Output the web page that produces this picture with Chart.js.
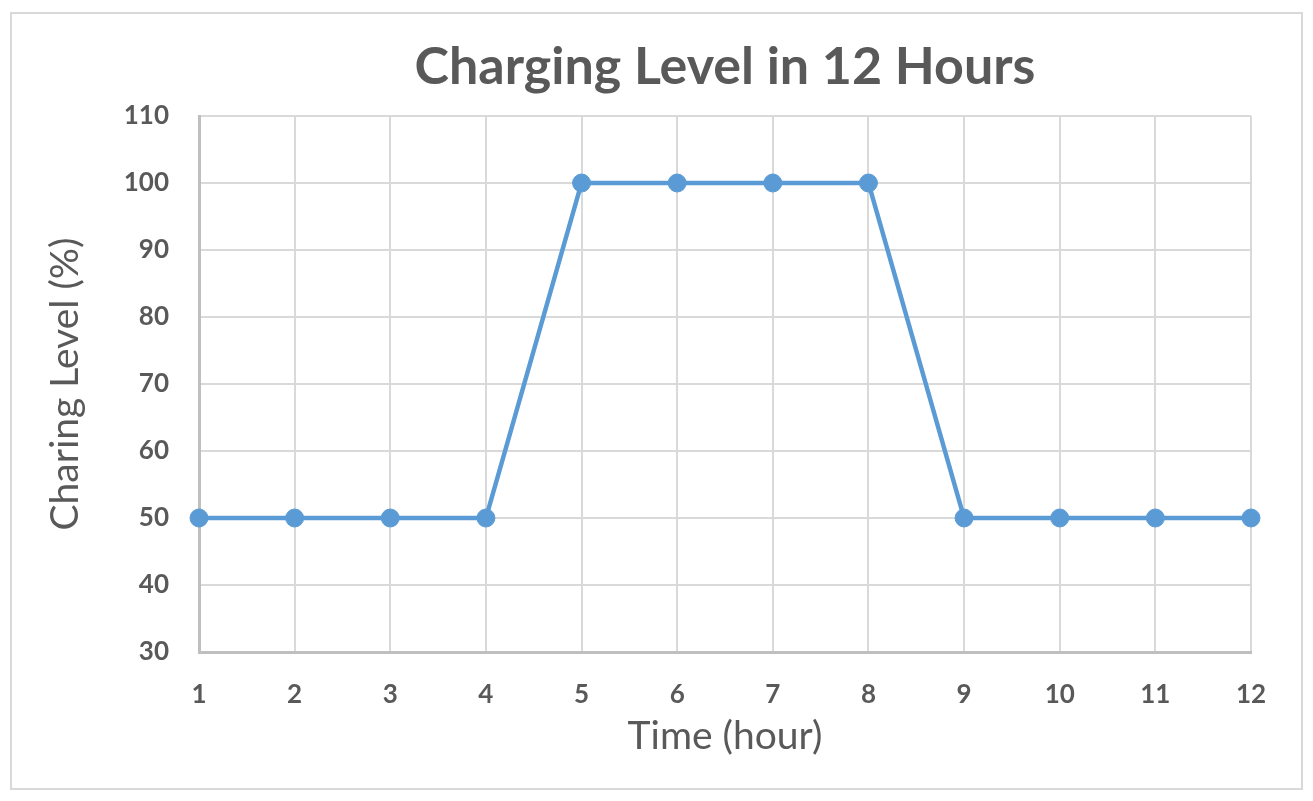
<!DOCTYPE html>
<html>
<head>
<meta charset="utf-8">
<script src="https://cdn.jsdelivr.net/npm/chart.js@4"></script>
<style>
  body { margin: 0; background: #fff; }
  #wrap { position: relative; width: 1313px; height: 801px; }
  #frame { position: absolute; left: 10px; top: 12px; width: 1293px; height: 778px;
           box-sizing: border-box; border: 2px solid #d9d9d9; pointer-events: none; }
</style>
</head>
<body>
<div id="wrap">
  <canvas id="levelChart" width="1313" height="801"></canvas>
  <div id="frame"></div>
</div>
<script>
// data
const hours = ["1", "2", "3", "4", "5", "6", "7", "8", "9", "10", "11", "12"];
const levels = [50, 50, 50, 50, 100, 100, 100, 100, 50, 50, 50, 50];
const yMin = 30;
const yMax = 110;
const yStep = 10;

const textColor = "#595959";
const fontName = "Lato, 'Open Sans', sans-serif";

const ctx = document.getElementById("levelChart").getContext("2d");

new Chart(ctx, {
    type: "line",
    data: {
        labels: hours,
        datasets: [
            {
                label: "Charging Level",
                data: levels,
                borderColor: "#5b9bd5",
                backgroundColor: "#5b9bd5",
                borderWidth: 4.5,
                pointRadius: 9,
                pointBorderWidth: 1,
                pointBackgroundColor: "#5b9bd5",
                pointBorderColor: "#5b9bd5",
                tension: 0,
                clip: false,
            },
        ],
    },
    options: {
        responsive: false,
        animation: false,
        layout: { padding: { top: 30, left: 30, right: 62, bottom: 20 } },
        plugins: {
            legend: { display: false },
            tooltip: { enabled: false },
            title: {
                display: true,
                text: "Charging Level in 12 Hours",
                color: textColor,
                fullSize: false,
                font: { family: fontName, size: 52, weight: "bold" },
                padding: { top: 6, bottom: 17.6 },
            },
        },
        scales: {
            x: {
                grid: { color: "#d9d9d9", lineWidth: 2, drawTicks: false },
                border: { color: "#bfbfbf", width: 3 },
                ticks: {
                    color: textColor,
                    padding: 27,
                    maxRotation: 0,
                    font: { family: fontName, size: 26, weight: "bold" },
                },
                title: {
                    display: true,
                    text: "Time (hour)",
                    color: textColor,
                    font: { family: fontName, size: 39 },
                    padding: { top: 0, bottom: 21 },
                },
                afterFit: function (scale) {
                    scale.height = 129;
                },
            },
            y: {
                min: yMin,
                max: yMax,
                grid: { color: "#d9d9d9", lineWidth: 2, drawTicks: false },
                border: { color: "#bfbfbf", width: 3 },
                ticks: {
                    stepSize: yStep,
                    color: textColor,
                    padding: 30,
                    font: { family: fontName, size: 26, weight: "bold" },
                },
                title: {
                    display: true,
                    text: "Charing Level (%)",
                    color: textColor,
                    font: { family: fontName, size: 39 },
                    padding: { top: 11.6, bottom: 0 },
                },
                afterFit: function (scale) {
                    scale.width = 169;
                },
            },
        },
    },
});
</script>
</body>
</html>
